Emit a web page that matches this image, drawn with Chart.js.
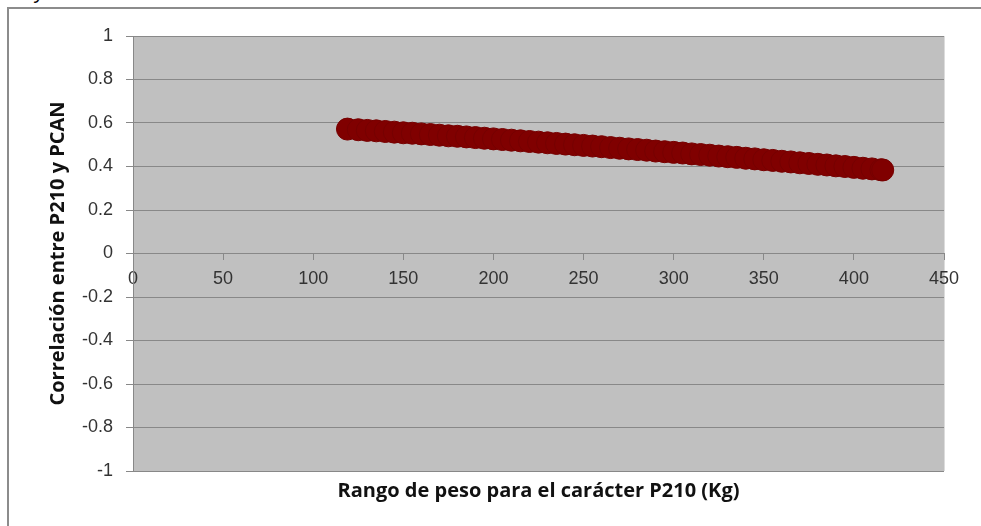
<!DOCTYPE html>
<html>
<head>
<meta charset="utf-8">
<script src="https://cdn.jsdelivr.net/npm/chart.js@4.4.1/dist/chart.umd.min.js"></script>
<style>
  html, body { margin: 0; padding: 0; background: #fff; overflow: hidden; }
  #wrap { position: relative; width: 981px; height: 526px; }
  #marco { position: absolute; left: 7px; top: 7px; width: 1100px; height: 700px;
           border-left: 2px solid #8c8c8c; border-top: 2px solid #8c8c8c; }
  #cabecera { position: absolute; left: 35px; top: -19px; font: italic 20px "Liberation Sans", Arial, sans-serif; color: #000; }
  canvas { position: absolute; left: 0; top: 0; }
</style>
</head>
<body>
<div id="wrap">
  <div id="cabecera">y</div>
  <div id="marco"></div>
  <canvas id="grafica" width="981" height="526"></canvas>
</div>
<script>
// peso P210 (Kg) y correlacion
const pesos = [119, 125, 130, 135, 140, 145, 150, 155, 160, 165, 170, 175, 180, 185, 190,
    195, 200, 205, 210, 215, 220, 225, 230, 235, 240, 245, 250, 255, 260, 265, 270,
    275, 280, 285, 290, 295, 300, 305, 310, 315, 320, 325, 330, 335, 340, 345, 350,
    355, 360, 365, 370, 375, 380, 385, 390, 395, 400, 405, 410, 415, 416];
const correlaciones = [0.572, 0.569, 0.566, 0.564, 0.561, 0.558, 0.555, 0.553, 0.550, 0.547,
    0.544, 0.541, 0.539, 0.536, 0.533, 0.530, 0.527, 0.524, 0.521, 0.518, 0.515, 0.512,
    0.509, 0.506, 0.503, 0.500, 0.497, 0.494, 0.491, 0.487, 0.484, 0.481, 0.478, 0.475,
    0.471, 0.468, 0.465, 0.462, 0.458, 0.455, 0.452, 0.448, 0.445, 0.442, 0.438, 0.435,
    0.431, 0.428, 0.424, 0.421, 0.417, 0.414, 0.410, 0.407, 0.403, 0.400, 0.396, 0.392,
    0.389, 0.385, 0.384];

const xTicks = [0, 50, 100, 150, 200, 250, 300, 350, 400, 450];
const yTicks = [-1, -0.8, -0.6, -0.4, -0.2, 0, 0.2, 0.4, 0.6, 0.8, 1];

const tituloX = "Rango de peso para el carácter P210 (Kg)";
const tituloY = "Correlación entre P210 y PCAN";

let puntos = [];
for (let i = 0; i < pesos.length; i++) {
    puntos.push({ x: pesos[i], y: correlaciones[i] });
}

// fondo gris del area de trazado
const fondo = {
    id: "fondo",
    beforeDraw(chart) {
        const a = chart.chartArea;
        const ctx = chart.ctx;
        ctx.save();
        ctx.fillStyle = "#c0c0c0";
        ctx.fillRect(a.left, a.top, a.right - a.left, a.bottom - a.top);
        ctx.strokeStyle = "#dcdcdc";
        ctx.lineWidth = 1;
        ctx.beginPath();
        ctx.moveTo(a.right + 0.5, a.top);
        ctx.lineTo(a.right + 0.5, a.bottom);
        ctx.stroke();
        ctx.restore();
    }
};

const fuenteTicks = { family: "'Liberation Sans', Arial, sans-serif", size: 18 };
const fuenteTitulo = { family: "'Open Sans', sans-serif", size: 20, weight: "bold" };
const etiqueta = (v) => String(Math.round(v * 10) / 10);

new Chart(document.getElementById("grafica"), {
    type: "scatter",
    data: {
        datasets: [{
            data: puntos,
            pointRadius: 11,
            pointHoverRadius: 11,
            pointBackgroundColor: "#800000",
            pointBorderColor: "#760000",
            pointBorderWidth: 1,
            showLine: false
        }]
    },
    options: {
        responsive: false,
        animation: false,
        layout: { padding: { left: 0, top: 36, right: 37, bottom: 0 } },
        plugins: { legend: { display: false }, tooltip: { enabled: false } },
        scales: {
            x: {
                type: "linear",
                position: { y: 0 },
                min: 0,
                max: 450,
                afterBuildTicks: (scale) => { scale.ticks = xTicks.map(v => ({ value: v })); },
                ticks: { font: fuenteTicks, color: "#333", padding: 9, maxRotation: 0, callback: etiqueta },
                grid: { drawOnChartArea: false, drawTicks: true, tickLength: 6, color: "#888" },
                border: { display: true, color: "#888" }
            },
            x2: {
                type: "linear",
                position: "bottom",
                min: 0,
                max: 450,
                ticks: { display: false },
                grid: { display: false },
                border: { display: false },
                title: { display: true, text: tituloX, font: fuenteTitulo, color: "#111", padding: { top: 0, bottom: 23 } },
                afterFit: (scale) => { scale.height = 55; }
            },
            y: {
                type: "linear",
                position: "left",
                min: -1,
                max: 1,
                afterBuildTicks: (scale) => { scale.ticks = yTicks.map(v => ({ value: v })); },
                ticks: { font: fuenteTicks, color: "#333", padding: 13, callback: etiqueta },
                grid: { color: "#888", tickLength: 7, lineWidth: 1 },
                border: { display: true, color: "#888" },
                title: { display: true, text: tituloY, font: fuenteTitulo, color: "#111", padding: { top: 46, bottom: 0 } },
                afterFit: (scale) => { scale.width = 133; }
            }
        }
    },
    plugins: [fondo]
});
</script>
</body>
</html>
